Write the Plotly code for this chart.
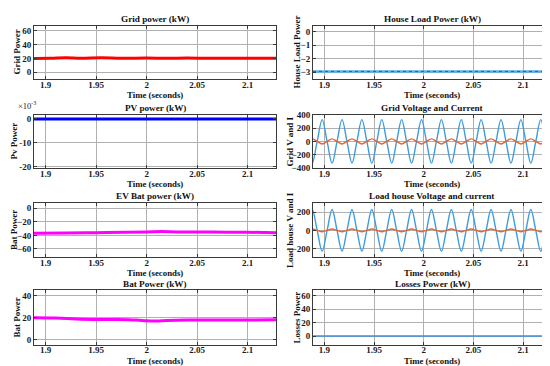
import plotly.graph_objects as go

# ---------------- data ----------------
t_grid_p = [1.8885, 1.905, 1.92, 1.935, 1.955, 1.975, 2.0, 2.02, 2.04, 2.06, 2.08, 2.1, 2.128]
grid_power = [20, 20.2, 21, 20.2, 21, 20.2, 20.6, 20.1, 20.6, 20.2, 20.3, 20.4, 20.1]

t_flat = [1.8885, 2.128]
house_load = [-2.93, -2.93]
pv_power = [0.0, 0.0]
losses_power = [0.3, 0.3]

t_ev = [1.8885, 1.92, 1.95, 1.98, 2.0, 2.015, 2.03, 2.05, 2.08, 2.1, 2.128]
ev_power = [-37, -36.5, -36, -35.5, -35, -34.5, -35, -35, -35.5, -35.5, -36]

t_bat = [1.8885, 1.91, 1.93, 1.95, 1.97, 1.99, 2.0, 2.01, 2.02, 2.04, 2.06, 2.08, 2.1, 2.128]
bat_power = [20, 19.8, 19, 18.5, 18.5, 18, 17.2, 17, 17.5, 18, 18, 18, 18, 18.3]

t_ac = [1.8827, 1.8877, 1.8927, 1.8977, 1.9027, 1.9077, 1.9127, 1.9177, 1.9227, 1.9277,
        1.9327, 1.9377, 1.9427, 1.9477, 1.9527, 1.9577, 1.9627, 1.9677, 1.9727, 1.9777,
        1.9827, 1.9877, 1.9927, 1.9977, 2.0027, 2.0077, 2.0127, 2.0177, 2.0227, 2.0277,
        2.0327, 2.0377, 2.0427, 2.0477, 2.0527, 2.0577, 2.0627, 2.0677, 2.0727, 2.0777,
        2.0827, 2.0877, 2.0927, 2.0977, 2.1027, 2.1077, 2.1127, 2.1177, 2.1227, 2.1277,
        2.1327]
grid_v = [0, -325, 0, 325, 0, -325, 0, 325, 0, -325, 0, 325, 0, -325, 0, 325, 0, -325, 0, 325,
          0, -325, 0, 325, 0, -325, 0, 325, 0, -325, 0, 325, 0, -325, 0, 325, 0, -325, 0, 325,
          0, -325, 0, 325, 0, -325, 0, 325, 0, -325, 0]
grid_i = [0, 38, 0, -38, 0, 38, 0, -38, 0, 38, 0, -38, 0, 38, 0, -38, 0, 38, 0, -38,
          0, 38, 0, -38, 0, 38, 0, -38, 0, 38, 0, -38, 0, 38, 0, -38, 0, 38, 0, -38,
          0, 38, 0, -38, 0, 38, 0, -38, 0, 38, 0]
load_v = [0, 230, 0, -230, 0, 230, 0, -230, 0, 230, 0, -230, 0, 230, 0, -230, 0, 230, 0, -230,
          0, 230, 0, -230, 0, 230, 0, -230, 0, 230, 0, -230, 0, 230, 0, -230, 0, 230, 0, -230,
          0, 230, 0, -230, 0, 230, 0, -230, 0, 230, 0]
load_i = [0, 15, 0, -15, 0, 15, 0, -15, 0, 15, 0, -15, 0, 15, 0, -15, 0, 15, 0, -15,
          0, 15, 0, -15, 0, 15, 0, -15, 0, 15, 0, -15, 0, 15, 0, -15, 0, 15, 0, -15,
          0, 15, 0, -15, 0, 15, 0, -15, 0, 15, 0]

x_ticks = [1.9, 1.95, 2.0, 2.05, 2.1]
x_tick_text = ["1.9", "1.95", "2", "2.05", "2.1"]

# ---------------- layout helpers ----------------
W, H = 550, 366
FONT = "Liberation Serif"
XR = [1.8885, 2.128]
cols = {0: (26, 268), 1: (305, 543)}
rows = {0: (13, 68), 1: (104.5, 159.5), 2: (195, 251), 3: (285, 341)}

fig = go.Figure()
annotations = []

panels = [
    # (row, col, title, ytitle, yrange, yticks, yticktext, ytitle_off)
    (0, 0, "Grid power (kW)", "Grid Power", [-10, 67.5], [0, 20, 40, 60], None, 17),
    (0, 1, "House Load Power (kW)", "House Load Power", [-3.5, 0.43], [-3, -2, -1, 0], None, 16),
    (1, 0, "PV power (kW)", "Pv Power", [-0.0205, 0.0018], [-0.02, -0.01, 0], ["-20", "-10", "0"], 20),
    (1, 1, "Grid Voltage and Current", "Grid V and I", [-400, 400], [-400, -200, 0, 200, 400], None, 23),
    (2, 0, "EV Bat power (kW)", "Bat Power", [-72, 8], [-60, -40, -20, 0], None, 20),
    (2, 1, "Load house Voltage and current", "Load house V and I", [-295, 305], [-200, 0, 200], None, 23),
    (3, 0, "Bat Power (kW)", "Bat Power", [-4.4, 45], [0, 20, 40], None, 17),
    (3, 1, "Losses Power (kW)", "Losses Power", [-12.5, 68], [0, 20, 40, 60], None, 16),
]

for k, (r, c, title, ytitle, yr, yt, ytt, yoff) in enumerate(panels):
    idx = k + 1
    xa = "xaxis" if idx == 1 else f"xaxis{idx}"
    ya = "yaxis" if idx == 1 else f"yaxis{idx}"
    x0, x1 = cols[c]
    y0, y1 = rows[r]
    xdom = [x0 / W, x1 / W]
    ydom = [1 - y1 / H, 1 - y0 / H]
    common = dict(showline=True, linecolor="#3a3a3a", linewidth=1, mirror="ticks",
                  ticks="inside", ticklen=3, tickcolor="#3a3a3a",
                  showgrid=True, gridcolor="#b0b0b0", gridwidth=1, zeroline=False,
                  tickfont=dict(family=FONT, size=9, color="#1a1a1a", weight="bold"))
    fig.layout[xa] = dict(domain=xdom, range=XR, tickvals=x_ticks, ticktext=x_tick_text,
                          ticklabelstandoff=-3,
                          anchor=f"y{idx if idx > 1 else ''}", **common)
    ydict = dict(domain=ydom, range=yr, tickvals=yt, anchor=f"x{idx if idx > 1 else ''}", **common)
    if ytt is not None:
        ydict["ticktext"] = ytt
    fig.layout[ya] = ydict
    cx = (x0 + x1) / 2 / W
    annotations.append(dict(text=title, x=cx, y=1 - (y0 - 6.5) / H, xref="paper", yref="paper",
                            xanchor="center", yanchor="middle", showarrow=False,
                            font=dict(family=FONT, size=9.2, color="#111111", weight="bold")))
    annotations.append(dict(text="Time (seconds)", x=cx, y=1 - (y1 + 16.5) / H, xref="paper", yref="paper",
                            xanchor="center", yanchor="middle", showarrow=False,
                            font=dict(family=FONT, size=8.8, color="#111111", weight="bold")))
    annotations.append(dict(text=ytitle, x=(x0 - yoff) / W, y=1 - (y0 + y1) / 2 / H, xref="paper", yref="paper",
                            xanchor="center", yanchor="middle", showarrow=False, textangle=-90,
                            font=dict(family=FONT, size=9, color="#111111", weight="bold")))

annotations.append(dict(text="×10<sup>-3</sup>", x=8 / W, y=1 - 95 / H, xref="paper", yref="paper",
                        xanchor="left", yanchor="middle", showarrow=False,
                        font=dict(family=FONT, size=8.5, color="#262626")))

def add(x, y, idx, color, width, shape="linear", dash=None):
    fig.add_trace(go.Scatter(x=x, y=y, mode="lines",
                             line=dict(color=color, width=width, shape=shape, dash=dash),
                             xaxis=f"x{idx if idx > 1 else ''}", yaxis=f"y{idx if idx > 1 else ''}",
                             showlegend=False, hoverinfo="skip"))

add(t_grid_p, grid_power, 1, "#ff0000", 3, "spline")
add(t_flat, house_load, 2, "#5ab0ea", 2.5)
add(t_flat, house_load, 2, "#1f5fb0", 1, dash="dot")
add(t_flat, pv_power, 3, "#0000ff", 3)
add(t_ac, grid_v, 4, "#3d9ce0", 1.4, "spline")
add(t_ac, grid_i, 4, "#e8642c", 1.4, "spline")
add(t_ev, ev_power, 5, "#ff00ff", 3, "spline")
add(t_ac, load_v, 6, "#3d9ce0", 1.4, "spline")
add(t_ac, load_i, 6, "#e8642c", 1.4, "spline")
add(t_bat, bat_power, 7, "#ff00ff", 3, "spline")
add(t_flat, losses_power, 8, "#3d8fd8", 1.5)

fig.update_layout(width=W, height=H, margin=dict(l=0, r=0, t=0, b=0),
                  paper_bgcolor="white", plot_bgcolor="white",
                  annotations=annotations, showlegend=False)

fig.write_html("out.html")
